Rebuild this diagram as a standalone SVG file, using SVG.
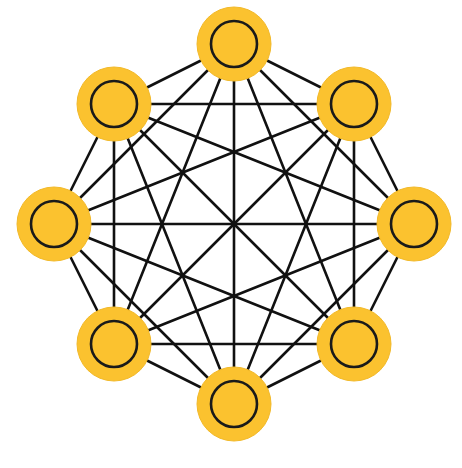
<svg xmlns="http://www.w3.org/2000/svg" width="462" height="468" viewBox="0 0 462 468">
<style>
.e{stroke:#111;stroke-width:2.6;fill:none;stroke-linecap:round}
.o{fill:#FBC22F;stroke:#F2B929;stroke-width:1}
.i{fill:#FBC22F;stroke:#1a1a1a;stroke-width:2.6}
</style>
<rect width="462" height="468" fill="#fff"/>
<g id="edges">
<line class="e" x1="234" y1="44" x2="354" y2="104"/>
<line class="e" x1="234" y1="44" x2="414" y2="224"/>
<line class="e" x1="234" y1="44" x2="354" y2="344"/>
<line class="e" x1="234" y1="44" x2="234" y2="404"/>
<line class="e" x1="234" y1="44" x2="114" y2="344"/>
<line class="e" x1="234" y1="44" x2="54" y2="224"/>
<line class="e" x1="234" y1="44" x2="114" y2="104"/>
<line class="e" x1="354" y1="104" x2="414" y2="224"/>
<line class="e" x1="354" y1="104" x2="354" y2="344"/>
<line class="e" x1="354" y1="104" x2="234" y2="404"/>
<line class="e" x1="354" y1="104" x2="114" y2="344"/>
<line class="e" x1="354" y1="104" x2="54" y2="224"/>
<line class="e" x1="354" y1="104" x2="114" y2="104"/>
<line class="e" x1="414" y1="224" x2="354" y2="344"/>
<line class="e" x1="414" y1="224" x2="234" y2="404"/>
<line class="e" x1="414" y1="224" x2="114" y2="344"/>
<line class="e" x1="414" y1="224" x2="54" y2="224"/>
<line class="e" x1="414" y1="224" x2="114" y2="104"/>
<line class="e" x1="354" y1="344" x2="234" y2="404"/>
<line class="e" x1="354" y1="344" x2="114" y2="344"/>
<line class="e" x1="354" y1="344" x2="54" y2="224"/>
<line class="e" x1="354" y1="344" x2="114" y2="104"/>
<line class="e" x1="234" y1="404" x2="114" y2="344"/>
<line class="e" x1="234" y1="404" x2="54" y2="224"/>
<line class="e" x1="234" y1="404" x2="114" y2="104"/>
<line class="e" x1="114" y1="344" x2="54" y2="224"/>
<line class="e" x1="114" y1="344" x2="114" y2="104"/>
<line class="e" x1="54" y1="224" x2="114" y2="104"/>
</g>
<g id="n-top"><circle class="o" cx="234" cy="44" r="37"/><circle class="i" cx="234" cy="44" r="23"/></g>
<g id="n-topright"><circle class="o" cx="354" cy="104" r="37"/><circle class="i" cx="354" cy="104" r="23"/></g>
<g id="n-right"><circle class="o" cx="414" cy="224" r="37"/><circle class="i" cx="414" cy="224" r="23"/></g>
<g id="n-bottomright"><circle class="o" cx="354" cy="344" r="37"/><circle class="i" cx="354" cy="344" r="23"/></g>
<g id="n-bottom"><circle class="o" cx="234" cy="404" r="37"/><circle class="i" cx="234" cy="404" r="23"/></g>
<g id="n-bottomleft"><circle class="o" cx="114" cy="344" r="37"/><circle class="i" cx="114" cy="344" r="23"/></g>
<g id="n-left"><circle class="o" cx="54" cy="224" r="37"/><circle class="i" cx="54" cy="224" r="23"/></g>
<g id="n-topleft"><circle class="o" cx="114" cy="104" r="37"/><circle class="i" cx="114" cy="104" r="23"/></g>
</svg>
